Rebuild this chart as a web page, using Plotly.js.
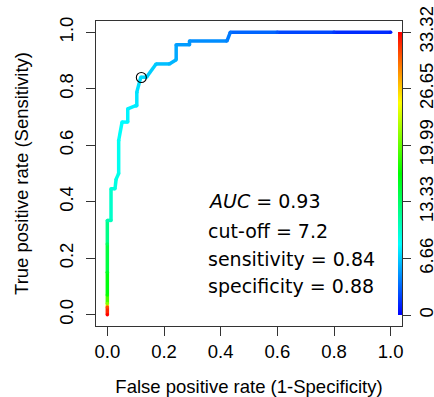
<!DOCTYPE html>
<html>
<head>
<meta charset="utf-8">
<script src="https://cdn.plot.ly/plotly-3.0.1.min.js"></script>
<style>html,body{margin:0;padding:0;background:#fff}#chart{width:434px;height:397px}</style>
</head>
<body>
<div id="chart"></div>
<script>
// ROC curve points (false positive rate, true positive rate) and cutoff at each point
const fpr = [0, 0, 0, 0, 0, 0, 0, 0.013, 0.013, 0.027, 0.031, 0.04, 0.04, 0.052, 0.072, 0.072, 0.10, 0.104, 0.104, 0.118, 0.138, 0.172, 0.219, 0.243, 0.243, 0.29, 0.29, 0.422, 0.434, 0.6, 0.8, 1.0];
const tpr = [0, 0.027, 0.04, 0.07, 0.15, 0.25, 0.334, 0.334, 0.446, 0.446, 0.48, 0.50, 0.617, 0.682, 0.682, 0.729, 0.74, 0.74, 0.788, 0.841, 0.841, 0.888, 0.888, 0.903, 0.956, 0.956, 0.969, 0.969, 1.0, 1.0, 1.0, 1.0];
const cutoff = [33.32, 31, 21, 17, 15.5, 13.5, 11, 10.5, 9.6, 9.4, 9.2, 9.0, 8.6, 8.3, 8.1, 7.9, 7.7, 7.6, 7.4, 7.2, 7.0, 6.5, 6.0, 5.8, 5.2, 5.0, 4.9, 4.3, 3.8, 2.8, 1.8, 1.0];

// optimal cut-off point
const cutX = [0.12];
const cutY = [0.84];

// colour bar ticks
const barTickVals = [0, 6.66, 13.33, 19.99, 26.65, 33.32];
const barTickText = ["0", "6.66", "13.33", "19.99", "26.65", "33.32"];
const cutMin = 0, cutMax = 33.32;

// axis ticks
const axisTicks = [0, 0.2, 0.4, 0.6, 0.8, 1.0];
const axisTickText = ["0.0", "0.2", "0.4", "0.6", "0.8", "1.0"];

// statistics text
const statLines = ["<i>AUC</i> = 0.93", "cut-off = 7.2", "sensitivity = 0.84", "specificity = 0.88"];

const rainbowScale = [[0, "#0000ff"], [0.25, "#00ffff"], [0.5, "#00ff00"], [0.75, "#ffff00"], [1, "#ff0000"]];

function colorFor(v) {
  let f = (v - cutMin) / (cutMax - cutMin);
  f = Math.max(0, Math.min(1, f));
  const h = (1 - f) * 4; // 0..4 sextants (red..blue)
  const i = Math.floor(h);
  const t = h - i;
  let r, g, b;
  switch (i) {
    case 0: r = 1; g = t; b = 0; break;
    case 1: r = 1 - t; g = 1; b = 0; break;
    case 2: r = 0; g = 1; b = t; break;
    case 3: r = 0; g = 1 - t; b = 1; break;
    default: r = 0; g = 0; b = 1;
  }
  return "rgb(" + Math.round(r * 255) + "," + Math.round(g * 255) + "," + Math.round(b * 255) + ")";
}

const traces = [];
for (let i = 0; i < fpr.length - 1; i++) {
  traces.push({
    type: "scatter", mode: "lines",
    x: [fpr[i], fpr[i + 1]], y: [tpr[i], tpr[i + 1]],
    line: {color: colorFor((cutoff[i] + cutoff[i + 1]) / 2), width: 3.5},
    hoverinfo: "skip", showlegend: false
  });
}
// joint markers + colour bar
traces.push({
  type: "scatter", mode: "markers",
  x: fpr, y: tpr,
  marker: {
    size: 3.5, color: cutoff, cmin: cutMin, cmax: cutMax, colorscale: rainbowScale,
    showscale: true,
    colorbar: {
      thickness: 4, thicknessmode: "pixels",
      len: 283, lenmode: "pixels",
      x: 0.9853, xanchor: "left", xpad: 0,
      y: 0.5, yanchor: "middle", ypad: 0,
      outlinewidth: 0,
      tickmode: "array", tickvals: barTickVals, ticktext: barTickText,
      ticks: "outside", ticklen: 9, tickcolor: "#333", tickwidth: 1,
      tickangle: -90,
      tickfont: {family: "Liberation Sans, Arial, sans-serif", size: 18.5, color: "#000"}
    }
  },
  hoverinfo: "skip", showlegend: false
});
// cut-off circle
traces.push({
  type: "scatter", mode: "markers", x: cutX, y: cutY,
  marker: {symbol: "circle-open", size: 10, color: "#000", line: {width: 1.1, color: "#000"}},
  hoverinfo: "skip", showlegend: false
});

const statY = [0.402, 0.298, 0.196, 0.100];
const annotations = statLines.map((s, k) => ({
  x: 0.347, y: statY[k], xref: "x", yref: "y",
  text: s, showarrow: false, xanchor: "left", yanchor: "middle",
  font: {family: "DejaVu Sans, sans-serif", size: 19, color: "#000"}
}));

const tickFont = {family: "Liberation Sans, Arial, sans-serif", size: 18.5, color: "#000"};
const layout = {
  width: 434, height: 397,
  margin: {l: 96, r: 32, t: 21, b: 71, autoexpand: false},
  paper_bgcolor: "#fff", plot_bgcolor: "#fff",
  showlegend: false,
  xaxis: {
    range: [-0.04, 1.04], showgrid: false, zeroline: false,
    showline: true, mirror: true, linecolor: "#333", linewidth: 1,
    tickmode: "array", tickvals: axisTicks, ticktext: axisTickText,
    ticks: "outside", ticklen: 9, tickcolor: "#333",
    tickfont: tickFont,
    title: {text: "False positive rate (1-Specificity)", font: tickFont, standoff: 18}
  },
  yaxis: {
    range: [-0.04, 1.04], showgrid: false, zeroline: false,
    showline: true, mirror: true, linecolor: "#333", linewidth: 1,
    tickmode: "array", tickvals: axisTicks, ticktext: axisTickText,
    ticks: "outside", ticklen: 9, tickcolor: "#333",
    tickangle: -90, ticklabelstandoff: 6,
    tickfont: tickFont,
    title: {text: "True positive rate (Sensitivity)", font: tickFont, standoff: 22}
  },
  annotations: annotations
};

Plotly.newPlot("chart", traces, layout, {staticPlot: true, displayModeBar: false});
</script>
</body>
</html>
